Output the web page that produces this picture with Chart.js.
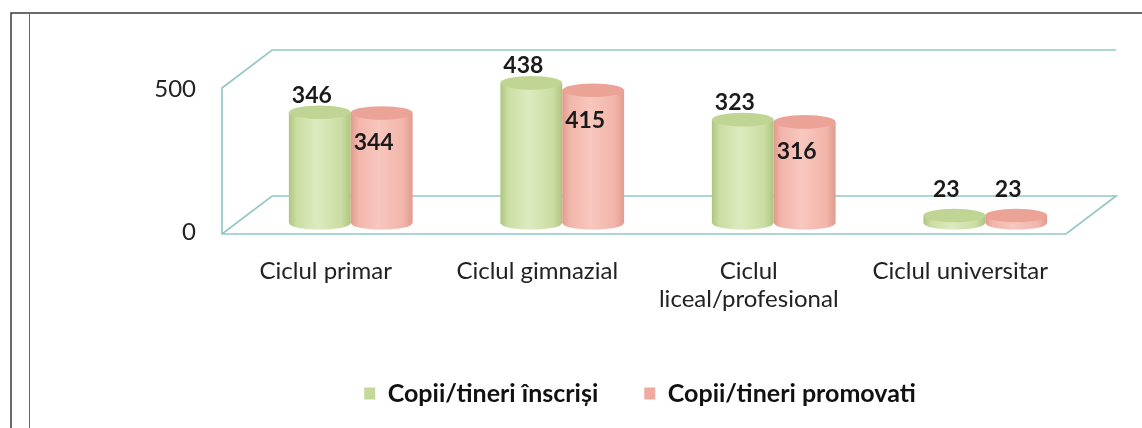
<!DOCTYPE html>
<html><head><meta charset="utf-8">
<script src="https://cdn.jsdelivr.net/npm/chart.js@4.4.1/dist/chart.umd.min.js"></script>
<style>html,body{margin:0;padding:0;background:#fff;overflow:hidden}#c{display:block}</style>
</head><body>
<canvas id="c" width="1142" height="428"></canvas>
<script>
// ---- data ----
const categories = [['Ciclul primar'], ['Ciclul gimnazial'], ['Ciclul', 'liceal/profesional'], ['Ciclul universitar']];
const seriesNames = ['Copii/tineri înscriși', 'Copii/tineri promovati'];
const enrolled = [346, 438, 323, 23];
const promoted = [344, 415, 316, 23];
const valueTicks = [0, 500];

// ---- styles ----
const FONT = 'Lato, "Open Sans", sans-serif';
const palette = [
  {fill: '#cadda2', edge: '#afc580', mid: '#dcebbf', top: '#c0d594', label: 'above'},
  {fill: '#f2b5aa', edge: '#e09b8e', mid: '#f8c7be', top: '#eaa396', label: 'inside'}
];

const framePlugin = {
  id: 'frame3d',
  beforeDraw(chart) {
    const {ctx, chartArea: a} = chart;
    ctx.save();
    ctx.strokeStyle = '#3a3a3a';
    ctx.lineWidth = 1.5;
    ctx.beginPath();
    ctx.moveTo(11, 430); ctx.lineTo(11, 13); ctx.lineTo(1142, 13);
    ctx.stroke();
    ctx.lineWidth = 1;
    ctx.strokeStyle = '#666';
    ctx.beginPath(); ctx.moveTo(29.5, 14); ctx.lineTo(29.5, 430); ctx.stroke();
    const dx = 50, dy = 38;
    const fl = a.left - 23, fr = a.right - 25, fb = a.bottom;
    const bl = fl + dx, br = fr + dx, bb = fb - dy, bt = a.top;
    ctx.strokeStyle = '#94c8c8';
    ctx.lineWidth = 1.7;
    ctx.beginPath();
    ctx.moveTo(br, bt); ctx.lineTo(bl, bt); ctx.lineTo(fl, bt + dy); ctx.lineTo(fl, fb);
    ctx.lineTo(fr, fb); ctx.lineTo(br, bb); ctx.lineTo(bl, bb); ctx.lineTo(fl, fb);
    ctx.stroke();
    ctx.restore();
  }
};

const cylinderPlugin = {
  id: 'cylinders',
  beforeDatasetDraw() { return false; },
  afterDatasetsDraw(chart) {
    const {ctx} = chart;
    ctx.save();
    const metas = [chart.getDatasetMeta(0), chart.getDatasetMeta(1)];
    const n = chart.data.labels.length;
    for (let i = 0; i < n; i++) {
      metas.forEach((meta, d) => {
        const el = meta.data[i];
        const p = palette[d];
        const w = el.width, x0 = el.x - w / 2, x1 = el.x + w / 2;
        const rx = w / 2, ry = w * 0.11;
        const top = el.y, base = el.base;
        const g = ctx.createLinearGradient(x0, 0, x1, 0);
        g.addColorStop(0, p.edge); g.addColorStop(0.12, p.fill);
        g.addColorStop(0.45, p.mid); g.addColorStop(0.85, p.fill); g.addColorStop(1, p.edge);
        ctx.fillStyle = g;
        ctx.beginPath();
        ctx.moveTo(x0, top);
        ctx.lineTo(x0, base);
        ctx.ellipse(el.x, base, rx, ry, 0, Math.PI, 0, true);
        ctx.lineTo(x1, top);
        ctx.closePath();
        ctx.fill();
        ctx.fillStyle = p.top;
        ctx.beginPath();
        ctx.ellipse(el.x, top, rx, ry, 0, 0, Math.PI * 2);
        ctx.fill();
      });
    }
    ctx.font = 'bold 23px ' + FONT;
    ctx.fillStyle = '#1a1a1a';
    ctx.textAlign = 'center';
    ctx.textBaseline = 'middle';
    metas.forEach((meta, d) => {
      const ds = chart.data.datasets[d];
      meta.data.forEach((el, i) => {
        const h = el.base - el.y;
        let y;
        if (h < 40) y = el.y - 26;
        else if (palette[d].label === 'above') y = el.y - 17;
        else y = el.y + 30;
        ctx.fillText(String(ds.data[i]), el.x - 8, y);
      });
    });
    ctx.restore();
  }
};

function noPad(s) { s.paddingTop = 0; s.paddingBottom = 0; }

new Chart(document.getElementById('c'), {
  type: 'bar',
  data: {
    labels: categories,
    datasets: [
      {label: seriesNames[0], data: enrolled, backgroundColor: '#c4d89a', borderWidth: 0, categoryPercentage: 0.585, barPercentage: 1.0},
      {label: seriesNames[1], data: promoted, backgroundColor: '#eeaa9e', borderWidth: 0, categoryPercentage: 0.585, barPercentage: 1.0}
    ]
  },
  options: {
    responsive: false,
    animation: false,
    devicePixelRatio: 1,
    layout: {padding: {top: 50, right: 0, left: 138, bottom: 12}},
    scales: {
      x: {
        grid: {display: false, drawTicks: false},
        border: {display: false},
        ticks: {labelOffset: -25, padding: 23, color: '#222', font: {family: FONT, size: 24, lineHeight: '28px'}, maxRotation: 0, autoSkip: false},
        afterFit(s) { s.height = 101; }
      },
      y: {display: false, min: -35, max: 541},
      y2: {
        position: 'left', min: -7, max: 638,
        grid: {display: false, drawTicks: false},
        border: {display: false},
        afterBuildTicks(s) { s.ticks = valueTicks.map(v => ({value: v})); },
        ticks: {padding: 49, color: '#222', font: {family: FONT, size: 24}},
        afterFit(s) { s.width = 107; noPad(s); }
      },
      yr: {
        position: 'right', min: 0, max: 1,
        grid: {display: false, drawTicks: false},
        border: {display: false},
        ticks: {display: false},
        afterFit(s) { s.width = 51; noPad(s); }
      }
    },
    plugins: {
      legend: {
        position: 'bottom',
        labels: {boxWidth: 11, boxHeight: 12, padding: 46, color: '#111', font: {family: FONT, size: 25, weight: 'bold'}}
      },
      tooltip: {enabled: false}
    }
  },
  plugins: [framePlugin, cylinderPlugin]
});
</script>
</body></html>
